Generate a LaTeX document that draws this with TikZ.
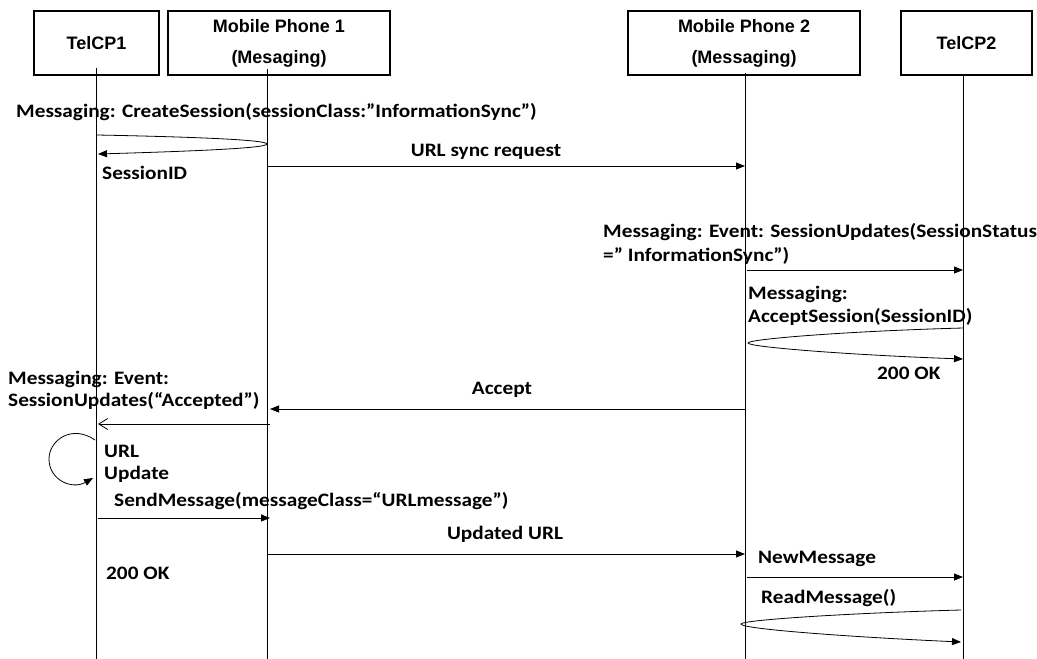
\documentclass[tikz,border=0pt]{standalone}
\usepackage{fontspec}
\setmainfont{Carlito}[FakeStretch=1.12]
\newfontfamily\boxfont{Liberation Sans}
\usetikzlibrary{arrows.meta}
\begin{document}
\begin{tikzpicture}[x=1pt,y=-1pt,
  actor/.style={draw,line width=1.5pt,inner sep=0pt,align=center,
    font=\boxfont\bfseries\fontsize{18}{31}\selectfont,minimum height=64pt},
  life/.style={line width=0.8pt},
  msg/.style={line width=0.8pt,-{Triangle[length=9pt,width=7pt]}},
  openmsg/.style={line width=0.8pt,-{Straight Barb[length=9pt,width=11pt]}},
  lbl/.style={inner sep=0pt,font=\bfseries\fontsize{19}{23}\selectfont,align=left},
]
\useasboundingbox (0,0) rectangle (1037,659);

% actors
\node[actor,minimum width=125pt] (A) at (96.5,43) {TelCP1};
\node[actor,minimum width=222pt] (B) at (279,43) {Mobile Phone 1\\(Mesaging)};
\node[actor,minimum width=232pt] (C) at (744,43) {Mobile Phone 2\\(Messaging)};
\node[actor,minimum width=131pt] (D) at (966.5,43) {TelCP2};

% lifelines
\coordinate (a0) at (96,68);  \coordinate (a9) at (96,659);
\coordinate (b0) at (267,69); \coordinate (b9) at (267,659);
\coordinate (c0) at (745,73); \coordinate (c9) at (745,659);
\coordinate (d0) at (963,75); \coordinate (d9) at (963,659);
\draw[life] (a0) -- (a9);
\draw[life] (b0) -- (b9);
\draw[life] (c0) -- (c9);
\draw[life] (d0) -- (d9);

% CreateSession
\node[lbl,anchor=base west] (t1) at (16,117) {Messaging: CreateSession(sessionClass:”InformationSync”)};
\coordinate (p1s) at (97,135); \coordinate (p1t) at (267,144); \coordinate (p1e) at (98,154);
\draw[msg] (p1s) .. controls (200,137) and (267,140) .. (p1t) .. controls (267,148) and (200,151) .. (p1e);
\node[lbl,anchor=base west] (t2) at (102,179) {SessionID};

% URL sync request
\node[lbl,anchor=base] (t3) at (486,156) {URL sync request};
\coordinate (p2s) at (267,166); \coordinate (p2e) at (745,166);
\draw[msg] (p2s) -- (p2e);

% SessionUpdates
\node[lbl,anchor=base west] (t4) at (603,237) {Messaging: Event: SessionUpdates(SessionStatus};
\node[lbl,anchor=base west] (t5) at (603,261) {=” InformationSync”)};
\coordinate (p3s) at (747,270); \coordinate (p3e) at (963,270);
\draw[msg] (p3s) -- (p3e);

% AcceptSession
\node[lbl,anchor=base west] (t6) at (748,299) {Messaging:};
\node[lbl,anchor=base west] (t7) at (748,322) {AcceptSession(SessionID)};
\coordinate (p4s) at (963,328); \coordinate (p4t) at (748,343); \coordinate (p4e) at (963,359);
\draw[msg] (p4s) .. controls (850,331) and (748,339) .. (p4t) .. controls (748,347) and (850,355) .. (p4e);
\node[lbl,anchor=base west] (t8) at (877,379) {200 OK};

% Accept
\node[lbl,anchor=base] (t9) at (502,394) {Accept};
\coordinate (p5s) at (745,409); \coordinate (p5e) at (270,409);
\draw[msg] (p5s) -- (p5e);
\node[lbl,anchor=base west] (t10) at (8,384) {Messaging: Event:};
\node[lbl,anchor=base west] (t11) at (8,406) {SessionUpdates(“Accepted”)};
\coordinate (p6s) at (270,424); \coordinate (p6e) at (98,424);
\draw[openmsg] (p6s) -- (p6e);

% URL update self loop
\coordinate (p7s) at (95,440); \coordinate (p7e) at (93,478);
\draw[msg] (p7s) .. controls (72,424) and (49,440) .. (49,459) .. controls (49,480) and (72,490) .. (p7e);
\node[lbl,anchor=base west] (t12) at (104,457) {URL};
\node[lbl,anchor=base west] (t13) at (104,479) {Update};

% SendMessage
\node[lbl,anchor=base west] (t14) at (114,506) {SendMessage(messageClass=“URLmessage”)};
\coordinate (p8s) at (98,518); \coordinate (p8e) at (270,518);
\draw[msg] (p8s) -- (p8e);

% Updated URL
\node[lbl,anchor=base] (t15) at (505,539) {Updated URL};
\coordinate (p9s) at (267,554); \coordinate (p9e) at (745,554);
\draw[msg] (p9s) -- (p9e);
\node[lbl,anchor=base west] (t16) at (106,579) {200 OK};

% NewMessage
\node[lbl,anchor=base west] (t17) at (758,563) {NewMessage};
\coordinate (p10s) at (747,577); \coordinate (p10e) at (963,577);
\draw[msg] (p10s) -- (p10e);

% ReadMessage
\node[lbl,anchor=base west] (t18) at (761,603) {ReadMessage()};
\coordinate (p11s) at (961,610); \coordinate (p11t) at (741,624); \coordinate (p11e) at (961,642);
\draw[msg] (p11s) .. controls (850,613) and (741,620) .. (p11t) .. controls (741,629) and (850,637) .. (p11e);
\end{tikzpicture}
\end{document}
